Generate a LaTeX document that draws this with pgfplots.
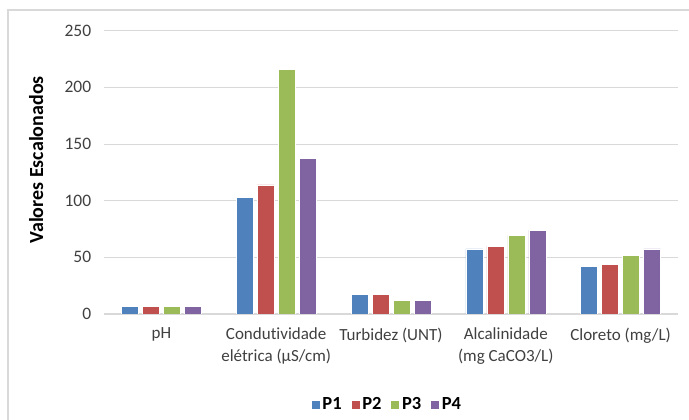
\documentclass[border=0pt]{standalone}
\usepackage{pgfplots}
\pgfplotsset{compat=1.18}
\usepackage{fontspec}
\setmainfont{Carlito}[Ligatures=NoCommon]

\definecolor{cP1}{HTML}{4F81BD}
\definecolor{cP2}{HTML}{C0504D}
\definecolor{cP3}{HTML}{9BBB59}
\definecolor{cP4}{HTML}{8064A2}
\definecolor{gridc}{HTML}{D9D9D9}
\definecolor{txt}{HTML}{404040}

\begin{document}
\fontsize{17}{21.5}\selectfont
\begin{tikzpicture}
\useasboundingbox (0pt,0pt) rectangle (689pt,420pt);
\draw[gridc, line width=1.2pt] (8pt,-5pt) -- (8pt,410pt) -- (700pt,410pt);
\begin{axis}[
  at={(104pt,106pt)}, anchor=south west,
  scale only axis,
  width=574pt, height=283.3pt,
  ybar=4pt, bar width=17pt,
  xmin=-0.5, xmax=4.5,
  ymin=0, ymax=250,
  ytick={0,50,...,250},
  xtick={0,1,2,3,4},
  xticklabels={pH, {Condutividade\\elétrica (µS/cm)}, Turbidez (UNT), {Alcalinidade\\(mg CaCO3/L)}, Cloreto (mg/L)},
  xticklabel style={align=center, anchor=north, yshift=-8pt, text=txt, font=\fontsize{17}{21.5}\selectfont},
  yticklabel style={text=txt, xshift=-7pt, font=\fontsize{17.5}{21.5}\selectfont},
  /pgf/number format/assume math mode=true,
  major tick length=0pt,
  axis line style={draw=none},
  axis x line*=bottom,
  ymajorgrids, grid style={gridc, line width=0.8pt},
  extra y ticks={0}, extra y tick labels={},
  extra y tick style={grid style={draw=gridc, line width=1pt}},
  ylabel={\textbf{Valores Escalonados}},
  ylabel style={at={(axis description cs:-0.118,0.544)}, anchor=center, rotate=0, font=\fontsize{20}{24}\selectfont},
  legend columns=-1,
  legend style={at={(axis description cs:0.493,-0.321)}, anchor=center, draw=none, fill=none,
    font=\fontsize{18.5}{22}\selectfont\bfseries,
    /tikz/every even column/.append style={column sep=7pt}},
  legend image code/.code={\fill[#1] (0pt,-4.5pt) rectangle (9pt,4.5pt);},
  every axis plot/.append style={draw=white, line width=0.6pt},
]
\addplot[fill=cP1] coordinates {(0,7) (1,103) (2,17) (3,57.5) (4,42)};
\addplot[fill=cP2] coordinates {(0,7) (1,114) (2,17) (3,60) (4,43.5)};
\addplot[fill=cP3] coordinates {(0,7) (1,215.5) (2,12) (3,69.5) (4,51.5)};
\addplot[fill=cP4] coordinates {(0,7) (1,137) (2,12) (3,74) (4,57.5)};
\legend{P1,P2,P3,P4}
\end{axis}
\end{tikzpicture}
\end{document}
